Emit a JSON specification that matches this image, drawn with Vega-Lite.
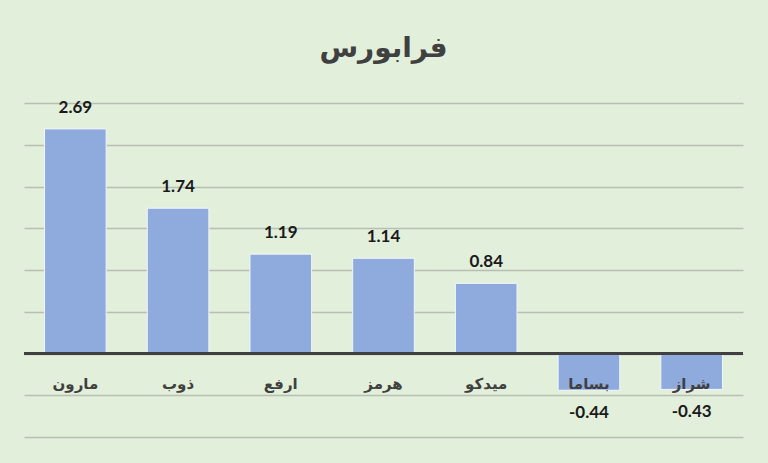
{
  "$schema": "https://vega.github.io/schema/vega-lite/v6.json",
  "autosize": {"type": "none"},
  "width": 719,
  "height": 334,
  "padding": {"left": 24, "top": 103, "right": 25, "bottom": 26},
  "background": "#e2efda",
  "config": {"view": {"stroke": null}},
  "title": {"text": "فرابورس", "font": "DejaVu Sans", "fontSize": 28, "fontWeight": "bold", "color": "#404040", "anchor": "middle", "offset": 36},
  "data": {"values": [
    {"name": "مارون", "value": 2.69, "label": "2.69"},
    {"name": "ذوب", "value": 1.74, "label": "1.74"},
    {"name": "ارفع", "value": 1.19, "label": "1.19"},
    {"name": "هرمز", "value": 1.14, "label": "1.14"},
    {"name": "ميدكو", "value": 0.84, "label": "0.84"},
    {"name": "بساما", "value": -0.44, "label": "-0.44"},
    {"name": "شراز", "value": -0.43, "label": "-0.43"}
  ]},
  "encoding": {
    "x": {"field": "name", "type": "nominal", "sort": null,
      "scale": {"paddingInner": 0.4, "paddingOuter": 0.2},
      "axis": null}
  },
  "layer": [
    {
      "mark": {"type": "bar", "color": "#8faadc", "stroke": "#f2f6fb", "strokeWidth": 1},
      "encoding": {
        "y": {"field": "value", "type": "quantitative",
          "scale": {"domain": [-1, 3], "nice": false, "zero": false},
          "axis": {"values": [-1, -0.5, 0, 0.5, 1, 1.5, 2, 2.5, 3], "grid": true, "gridColor": "#b8bfb2", "gridWidth": 1.5, "labels": false, "ticks": false, "domain": false, "title": null}},
        "y2": {"datum": 0}
      }
    },
    {
      "mark": {"type": "rule", "color": "#404040", "strokeWidth": 3},
      "encoding": {"y": {"datum": 0}, "x": {"value": 0}, "x2": {"value": 719}}
    },
    {
      "mark": {"type": "text", "font": "DejaVu Sans", "fontSize": 15, "fontWeight": "bold", "color": "#404040", "baseline": "middle", "dy": 30},
      "encoding": {"y": {"datum": 0}, "text": {"field": "name"}}
    },
    {
      "transform": [{"filter": "datum.value >= 0"}],
      "mark": {"type": "text", "font": "Lato", "fontSize": 17, "fontWeight": "bold", "color": "#1a1a1a", "baseline": "middle", "dy": -21},
      "encoding": {"y": {"field": "value", "type": "quantitative"}, "text": {"field": "label"}}
    },
    {
      "transform": [{"filter": "datum.value < 0"}],
      "mark": {"type": "text", "font": "Lato", "fontSize": 17, "fontWeight": "bold", "color": "#1a1a1a", "baseline": "middle", "dy": 23},
      "encoding": {"y": {"field": "value", "type": "quantitative"}, "text": {"field": "label"}}
    }
  ]
}
